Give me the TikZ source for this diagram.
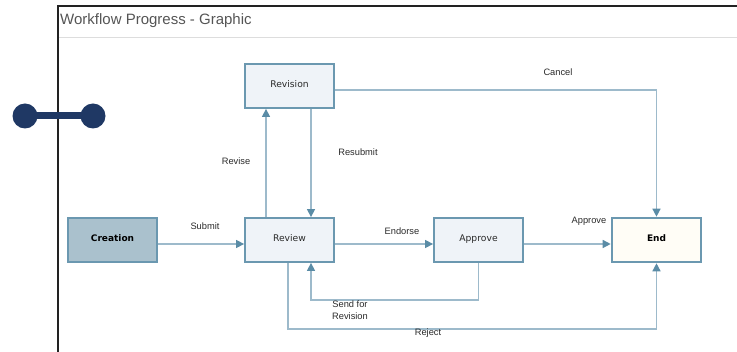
\documentclass[tikz,border=0pt]{standalone}
\usepackage{fontspec}
\setmainfont{Liberation Sans}
\newfontfamily\boxfont{DejaVu Sans}
\usetikzlibrary{arrows.meta}
\definecolor{framecol}{HTML}{222222}
\definecolor{sepcol}{HTML}{DDDDDD}
\definecolor{titlecol}{HTML}{555555}
\definecolor{navy}{HTML}{1F3864}
\definecolor{boxedge}{HTML}{6B98B0}
\definecolor{boxfill}{HTML}{EFF3F8}
\definecolor{startfill}{HTML}{AAC1CD}
\definecolor{endfill}{HTML}{FFFDF6}
\definecolor{linkcol}{HTML}{9DBACB}
\definecolor{tipcol}{HTML}{5A8CA6}
\definecolor{txtcol}{HTML}{2A2A2A}
% stage captions sit a little above the box centre
\newcommand\stagetext[1]{\raisebox{3pt}{#1}}
\tikzset{
  stage/.style={draw=boxedge, line width=1.8pt, fill=boxfill, minimum width=89pt,
    minimum height=44pt, inner sep=0pt, font=\boxfont\fontsize{9.2}{11}\selectfont, text=txtcol},
  startstage/.style={stage, fill=startfill, font=\boxfont\bfseries\fontsize{9}{11}\selectfont, text=black},
  endstage/.style={stage, line width=2.6pt, fill=endfill, font=\boxfont\bfseries\fontsize{9}{11}\selectfont, text=black},
  flow/.style={draw=linkcol, line width=1.4pt, -{Triangle[length=8pt,width=8pt,color=tipcol]}},
  lbl/.style={font=\fontsize{9.3}{12}\selectfont, text=txtcol, inner sep=0pt, align=center}
}
\begin{document}
\begin{tikzpicture}[x=1pt,y=-1pt]
\useasboundingbox (0,0) rectangle (737,352);
% panel frame and title bar
\draw[sepcol, line width=1pt] (58,38) -- (737,38);
\draw[framecol, line width=1.5pt] (737,6) -- (58,6) -- (58,352);
\node[anchor=west, inner sep=0pt, text=titlecol, font=\fontsize{15}{17}\selectfont] (title) at (60,20.5) {Workflow Progress - Graphic};
% connector handle on the panel edge
\draw[navy, line width=7pt] (25,116) -- (93,116);
\fill[navy] (25,116) circle (12.5pt) (93,116) circle (12.5pt);
% stages
\node[stage] (revision) at (289.5,86) {\stagetext{Revision}};
\node[startstage] (creation) at (112.5,240) {\stagetext{Creation}};
\node[stage] (review) at (289.5,240) {\stagetext{Review}};
\node[stage] (approve) at (478.5,240) {\stagetext{Approve}};
\node[endstage] (end) at (656.5,240) {\stagetext{End}};
% transitions
\draw[flow] ([yshift=-4pt]creation.east) -- ([yshift=-4pt]review.west);
\draw[flow] ([yshift=-4pt]review.east) -- ([yshift=-4pt]approve.west);
\draw[flow] ([yshift=-4pt]approve.east) -- ([yshift=-4pt]end.west);
\draw[flow] ([xshift=-23.5pt]review.north) -- ([xshift=-23.5pt]revision.south);
\draw[flow] ([xshift=21.5pt]revision.south) -- ([xshift=21.5pt]review.north);
\draw[flow] ([yshift=-4pt]revision.east) -| (end.north);
\draw[flow] (approve.south) -- ++(0,37) -| ([xshift=21.5pt]review.south);
\draw[flow] ([xshift=-1.5pt]review.south) -- ++(0,66) -| (end.south);
% transition labels
\node[lbl] (lsubmit) at (205,226) {Submit};
\node[lbl] (lendorse) at (402,231) {Endorse};
\node[lbl] (lapprove) at (589,221) {Approve};
\node[lbl] (lrevise) at (236,161) {Revise};
\node[lbl] (lresubmit) at (358,152) {Resubmit};
\node[lbl] (lcancel) at (558,72) {Cancel};
\node[lbl] (lsend) at (350,310) {Send for\\Revision};
\node[lbl] (lreject) at (428,333) {Reject};
\end{tikzpicture}
\end{document}
